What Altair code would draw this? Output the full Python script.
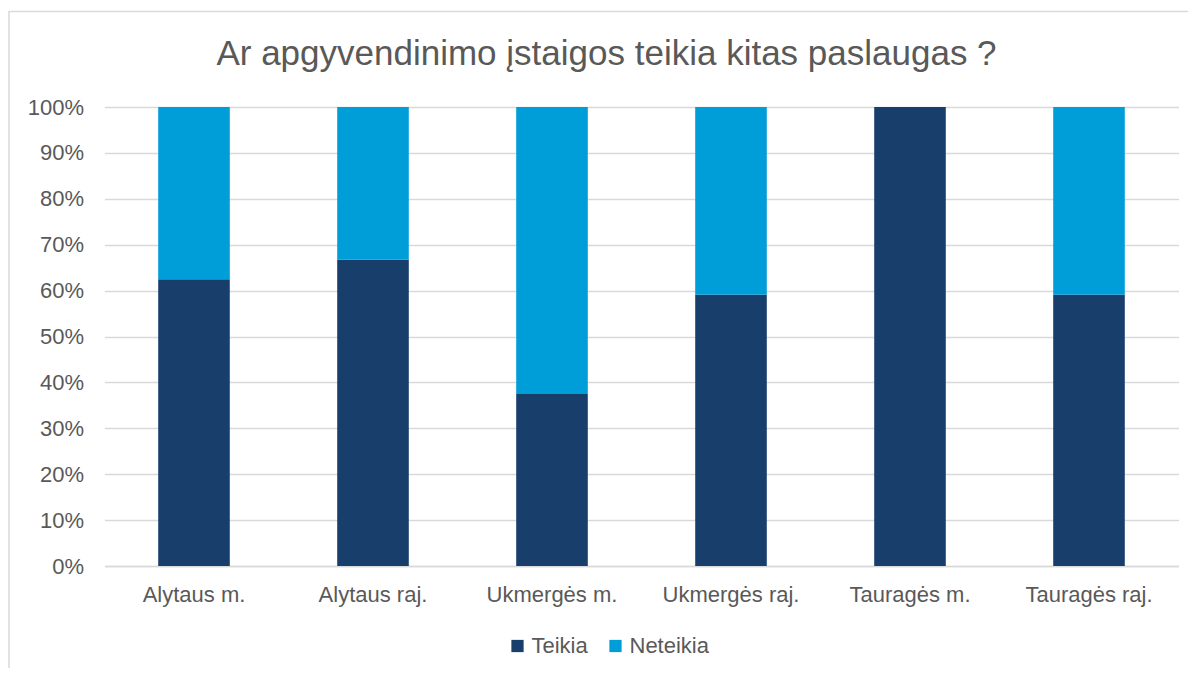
import altair as alt
import pandas as pd

categories = ["Alytaus m.", "Alytaus raj.", "Ukmergės m.", "Ukmergės raj.", "Tauragės m.", "Tauragės raj."]
series = ["Teikia", "Neteikia"]
teikia = [0.625, 0.667, 0.375, 0.591, 1.0, 0.591]
neteikia = [0.375, 0.333, 0.625, 0.409, 0.0, 0.409]
colors = ["#183F6B", "#009ED9"]
y_ticks = [0, 0.1, 0.2, 0.3, 0.4, 0.5, 0.6, 0.7, 0.8, 0.9, 1.0]

rows = []
for c, t, n in zip(categories, teikia, neteikia):
    rows.append({"cat": c, "series": "Teikia", "value": t, "ord": 0})
    rows.append({"cat": c, "series": "Neteikia", "value": n, "ord": 1})
df = pd.DataFrame(rows)

FONT = "Liberation Sans"
TXT = "#595959"
GRID = "#D9D9D9"

bars = alt.Chart(df).mark_bar(strokeWidth=0).encode(
    x=alt.X("cat:N", sort=categories, title=None,
            scale=alt.Scale(paddingInner=0.6, paddingOuter=0.3),
            axis=alt.Axis(labelAngle=0, ticks=False, domainColor=GRID, domainWidth=1.5,
                          labelPadding=18, labelFontSize=22, labelColor=TXT, labelFont=FONT,
                          grid=False)),
    y=alt.Y("value:Q", stack="zero", title=None,
            scale=alt.Scale(domain=[0, 1], nice=False),
            axis=alt.Axis(format=".0%", values=y_ticks, domain=False, ticks=False,
                          gridColor=GRID, gridWidth=1.5, labelPadding=21,
                          labelFontSize=22, labelColor=TXT, labelFont=FONT)),
    color=alt.Color("series:N", sort=series,
                    scale=alt.Scale(domain=series, range=colors),
                    legend=alt.Legend(title=None, orient="none", legendX=402, legendY=528,
                                      direction="horizontal", symbolType="square",
                                      symbolSize=150, symbolStrokeWidth=0, labelOffset=3,
                                      columnPadding=16, labelFontSize=22, labelColor=TXT,
                                      labelFont=FONT)),
    order=alt.Order("ord:Q"),
)

border = alt.Chart(pd.DataFrame({"a": [0]})).mark_rect(
    fill=None, stroke=GRID, strokeWidth=1.5
).encode(
    x=alt.value(-95.5), x2=alt.value(1100), y=alt.value(-95.5), y2=alt.value(600)
)

chart = alt.layer(border, bars).properties(
    width=1074, height=459,
    autosize=alt.AutoSizeParams(type="none"),
    padding={"left": 96.5, "top": 99, "right": 9, "bottom": 102},
    title=alt.Title("Ar apgyvendinimo įstaigos teikia kitas paslaugas ?",
                    font=FONT, fontSize=35, fontWeight="normal", color=TXT,
                    anchor="middle", dx=-35, offset=0, dy=61),
).configure_view(stroke=None)

chart.save("out.html", embed_options={"renderer": "svg", "actions": False})
